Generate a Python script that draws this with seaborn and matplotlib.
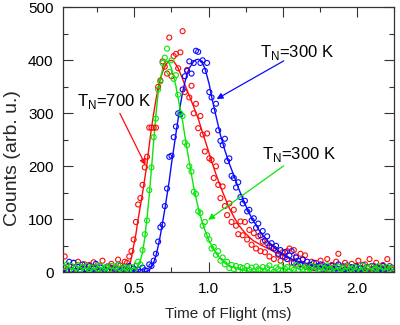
import numpy as np
import pandas as pd
import matplotlib
matplotlib.use("Agg")
import matplotlib.pyplot as plt
from matplotlib.ticker import MultipleLocator, FormatStrFormatter
import seaborn as sns

# ---------------- data ----------------
# measured points: regular time grid (ms)
tof_start = 0.03
tof_step = 0.015

counts_700K = [30, 5, 12, 2, 18, 8, 20, 3, 10, 15,
               6, 14, 2, 19, 9, 4, 12, 22, 7, 3,
               11, 16, 5, 9, 24, 13, 8, 20, 18, 30,
               40, 62, 95, 128, 140, 165, 198, 218, 273, 273,
               273, 273, 350, 362, 398, 388, 375, 443, 370, 408,
               412, 385, 415, 455, 340, 382, 330, 352, 300, 318,
               272, 295, 260, 228, 262, 215, 212, 178, 200, 165,
               140, 162, 125, 108, 130, 95, 118, 88, 72, 96,
               70, 95, 62, 80, 52, 74, 45, 68, 40, 58,
               38, 55, 30, 48, 25, 42, 33, 22, 38, 28,
               40, 45, 18, 42, 30, 12, 35, 25, 32, 10,
               12, 20, 8, 18, 5, 22, 14, 6, 25, 10,
               14, 8, 20, 35, 6, 12, 18, 4, 10, 16,
               5, 12, 22, 8, 3, 15, 10, 25, 6, 12,
               18, 4, 9, 14, 7, 25, 12, 5]

counts_300K_slow = [8, 2, 20, 5, 18, 3, 10, 1, 15, 6,
                    4, 12, 2, 7, 16, 3, 9, 1, 5, 11,
                    3, 8, 1, 6, 14, 2, 5, 10, 4, 12,
                    2, 7, 3, 5, 1, 9, 4, 3, 15, 12,
                    22, 35, 58, 85, 90, 125, 158, 218, 220, 255,
                    275, 300, 298, 345, 370, 380, 398, 375, 395, 418,
                    416, 395, 400, 380, 395, 340, 330, 305, 318, 268,
                    248, 240, 252, 210, 215, 182, 178, 160, 170, 142,
                    130, 135, 115, 118, 98, 102, 84, 92, 70, 78,
                    60, 68, 50, 55, 45, 50, 35, 42, 30, 38,
                    25, 32, 40, 18, 28, 22, 15, 24, 12, 20,
                    14, 10, 18, 8, 12, 15, 5, 11, 9, 6,
                    12, 4, 8, 15, 3, 9, 6, 13, 2, 10,
                    5, 11, 3, 8, 14, 4, 9, 2, 12, 6,
                    10, 3, 7, 12, 5, 8, 2, 9]

counts_300K_fast = [10, 15, 4, 12, 2, 8, 14, 5, 10, 3,
                    12, 6, 9, 1, 11, 7, 13, 4, 8, 10,
                    5, 12, 3, 9, 14, 6, 2, 10, 8, 5,
                    10, 3, 12, 20, 15, 42, 72, 98, 155, 198,
                    255, 290, 345, 360, 395, 405, 422, 378, 400, 365,
                    372, 335, 300, 295, 245, 240, 200, 190, 152, 148,
                    115, 112, 88, 95, 70, 62, 45, 48, 33, 40,
                    22, 28, 15, 20, 8, 14, 6, 12, 4, 10,
                    8, 3, 12, 5, 9, 2, 11, 6, 4, 10,
                    3, 8, 13, 5, 1, 9, 6, 12, 4, 7,
                    10, 2, 8, 5, 14, 3, 9, 6, 11, 4,
                    7, 12, 2, 9, 5, 10, 3, 8, 13, 6,
                    4, 9, 2, 11, 6, 8, 3, 12, 5, 7,
                    10, 4, 8, 2, 13, 6, 9, 3, 11, 5,
                    7, 12, 4, 9, 2, 10, 6, 8]

# fitted curves
fit_t_700K = [0.02, 0.40, 0.45, 0.465, 0.48, 0.495, 0.51, 0.525, 0.54, 0.555, 0.57,
              0.585, 0.60, 0.615, 0.63, 0.645, 0.66, 0.675, 0.69, 0.705, 0.72, 0.735,
              0.75, 0.765, 0.78, 0.795, 0.81, 0.84, 0.87, 0.90, 0.93, 0.96, 0.99, 1.02,
              1.05, 1.08, 1.11, 1.14, 1.17, 1.20, 1.25, 1.30, 1.35, 1.40, 1.45, 1.50,
              1.55, 1.60, 1.70, 1.80, 1.90, 2.00, 2.25]
fit_y_700K = [0, 0, 3, 10, 28, 50, 72, 100, 125, 150, 177,
              205, 240, 272, 300, 325, 348, 365, 378, 388, 395, 399,
              400, 398, 392, 385, 375, 354, 333, 312, 290, 263, 237, 210,
              185, 162, 141, 121, 105, 90, 73, 60, 52, 45, 38, 32,
              26, 21, 14, 9, 6, 4, 1]

fit_t_300K_fast = [0.02, 0.45, 0.48, 0.495, 0.51, 0.525, 0.54, 0.555, 0.57, 0.585, 0.60,
                   0.615, 0.63, 0.645, 0.66, 0.675, 0.69, 0.705, 0.72, 0.735, 0.75, 0.765,
                   0.78, 0.795, 0.81, 0.825, 0.84, 0.855, 0.87, 0.885, 0.90, 0.915, 0.93,
                   0.945, 0.96, 0.975, 0.99, 1.005, 1.02, 1.05, 1.08, 1.11, 1.14, 1.17,
                   1.20, 1.25, 1.30, 1.40, 2.25]
fit_y_300K_fast = [0, 0, 1, 2, 6, 12, 22, 38, 65, 103, 145,
                   196, 247, 298, 338, 365, 383, 395, 399, 394, 385, 369,
                   351, 328, 306, 285, 258, 232, 208, 184, 160, 141, 122,
                   106, 92, 80, 69, 59, 51, 36, 26, 18, 12, 9,
                   6, 3, 1.5, 0.5, 0]

fit_t_300K_slow = [0.02, 0.55, 0.57, 0.585, 0.60, 0.615, 0.63, 0.645, 0.66, 0.675, 0.69,
                   0.705, 0.72, 0.735, 0.75, 0.765, 0.78, 0.795, 0.81, 0.825, 0.84, 0.855,
                   0.87, 0.885, 0.90, 0.915, 0.93, 0.945, 0.96, 0.975, 0.99, 1.005, 1.02,
                   1.035, 1.05, 1.065, 1.08, 1.11, 1.14, 1.17, 1.20, 1.23, 1.26, 1.29,
                   1.32, 1.35, 1.40, 1.45, 1.50, 1.55, 1.60, 1.70, 1.80, 1.90, 2.00, 2.25]
fit_y_300K_slow = [0, 0, 1, 2, 4, 10, 18, 31, 49, 70, 94,
                   119, 146, 173, 205, 233, 262, 290, 316, 340, 358, 374,
                   385, 392, 398, 401, 402, 400, 394, 385, 370, 354, 332,
                   313, 295, 277, 259, 230, 205, 183, 160, 139, 120, 103,
                   89, 75, 58, 45, 34, 26, 20, 12, 7, 4, 2, 1]

labels = ["T$_\\mathregular{N}$=700 K", "T$_\\mathregular{N}$=300 K", "T$_\\mathregular{N}$=300 K"]
x_ticks = [0.5, 1.0, 1.5, 2.0]
y_ticks = [0, 100, 200, 300, 400, 500]

# ---------------- style ----------------
sns.set_style("white")
plt.rcParams["font.family"] = ["Liberation Sans", "DejaVu Sans"]
plt.rcParams["mathtext.fontset"] = "custom"
plt.rcParams["mathtext.rm"] = "Liberation Sans"

RED = "#ff0a0a"
BLUE = "#0a0aff"
GREEN = "#0ae60a"

fig = plt.figure(figsize=(4.0, 3.25), dpi=100)
ax = fig.add_axes([0.158, 0.162, 0.827, 0.8155])

n = len(counts_700K)
t_grid = tof_start + tof_step * np.arange(n)

series = [
    (counts_700K, fit_t_700K, fit_y_700K, RED),
    (counts_300K_slow, fit_t_300K_slow, fit_y_300K_slow, BLUE),
    (counts_300K_fast, fit_t_300K_fast, fit_y_300K_fast, GREEN),
]
for counts, ft, fy, col in series:
    df = pd.DataFrame({"t": t_grid, "c": counts})
    sns.scatterplot(data=df, x="t", y="c", ax=ax, marker="o", s=13,
                    color=col, facecolor="none", edgecolor=col,
                    linewidth=0.8, zorder=3)
    dff = pd.DataFrame({"t": ft, "y": fy})
    sns.lineplot(data=dff, x="t", y="y", ax=ax, color=col, lw=1.0,
                 sort=False, estimator=None, zorder=2)

ax.set_xlim(0.02, 2.25)
ax.set_ylim(0, 500)
ax.set_xticks(x_ticks)
ax.set_yticks(y_ticks)
ax.xaxis.set_major_formatter(FormatStrFormatter("%.1f"))
ax.xaxis.set_minor_locator(MultipleLocator(0.25))
ax.yaxis.set_minor_locator(MultipleLocator(50))
ax.tick_params(which="both", direction="in", top=True, right=True,
               bottom=True, left=True, colors="#333333")
ax.tick_params(which="major", length=7, width=0.8, labelsize=11, pad=7,
               labelcolor="black")
ax.tick_params(which="minor", length=3.5, width=0.8)
for sp in ax.spines.values():
    sp.set_color("#333333")
    sp.set_linewidth(0.9)

ax.set_xlabel("Time of Flight (ms)", fontsize=11, labelpad=8)
ax.set_ylabel("Counts (arb. u.)", fontsize=14)
ax.yaxis.set_label_coords(-0.128, 0.43)

# annotations
ann = [
    (labels[0], (0.114, 314), (0.402, 300), (0.575, 202), RED),
    (labels[1], (1.345, 407), (1.507, 399), (1.054, 327), BLUE),
    (labels[2], (1.361, 213), (1.507, 201), (0.997, 99), GREEN),
]
for txt, tpos, tail, head, col in ann:
    ax.text(tpos[0], tpos[1], txt, fontsize=12, color="black",
            ha="left", va="baseline")
    ax.annotate("", xy=head, xytext=tail,
                arrowprops=dict(arrowstyle="-|>", color=col, lw=0.9,
                                mutation_scale=9, shrinkA=0, shrinkB=0))

fig.savefig("out.png", dpi=100)
